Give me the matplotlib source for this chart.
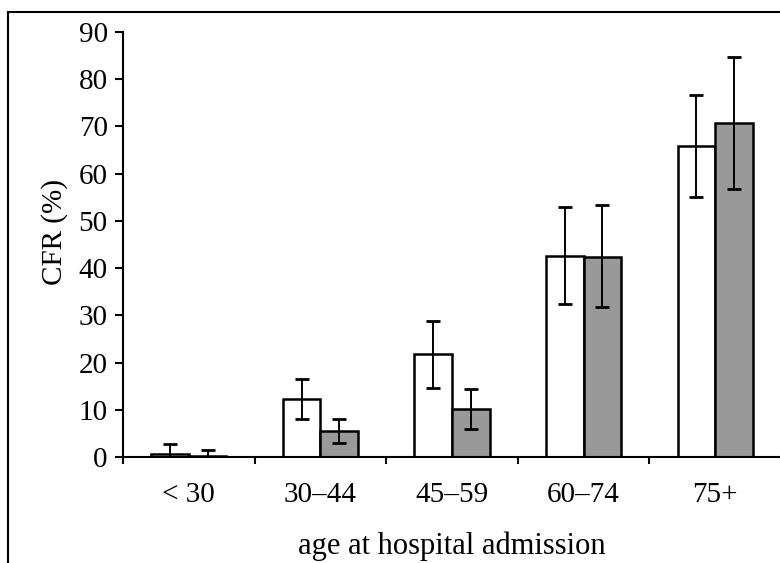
import numpy as np
import matplotlib.pyplot as plt
from matplotlib.lines import Line2D

# CFR by age group, two series (white / grey bars)
categories = ['< 30', '30\u201344', '45\u201359', '60\u201374', '75+']
cfr_white = [0.7, 12.3, 21.8, 42.5, 65.9]
low_white = [0.0, 8.0, 14.6, 32.3, 55.1]
high_white = [2.7, 16.5, 28.9, 53.0, 76.7]
cfr_grey = [0.3, 5.5, 10.2, 42.3, 70.7]
low_grey = [0.0, 3.0, 5.9, 31.7, 56.8]
high_grey = [1.5, 8.0, 14.3, 53.3, 84.7]

plt.rcParams['font.family'] = ['Liberation Serif', 'DejaVu Serif']

fig = plt.figure(figsize=(7.8, 5.63), dpi=100)
ax = fig.add_axes([0.1577, 0.1883, 0.8436, 0.7549])

x = np.arange(len(categories))
w = 0.286

def draw(vals, lo, hi, offset, color):
    vals = np.array(vals)
    ax.bar(x + offset, vals, w, color=color, edgecolor='black', linewidth=1.8, zorder=2)
    yerr = [vals - np.array(lo), np.array(hi) - vals]
    ax.errorbar(x + offset, vals, yerr=yerr, fmt='none', ecolor='black',
                elinewidth=1.4, capsize=5, capthick=2.0, zorder=3)

draw(cfr_white, low_white, high_white, -w / 2, 'white')
draw(cfr_grey, low_grey, high_grey, w / 2, '#999999')

ax.set_xlim(-0.5, len(categories) - 0.5)
ax.set_ylim(0, 90)
ax.set_yticks(range(0, 91, 10))
ax.set_xticks(np.arange(-0.5, len(categories), 1.0))
ax.set_xticklabels([])
ax.set_xticks(x, minor=True)
ax.set_xticklabels(categories, minor=True)
ax.tick_params(axis='x', which='minor', length=0, pad=18, labelsize=21)
ax.tick_params(axis='x', which='major', direction='out', length=5, width=1.5)
ax.tick_params(axis='y', direction='out', length=6, width=1.5, labelsize=21, pad=5)

for s in ['top', 'right']:
    ax.spines[s].set_visible(False)
ax.spines['left'].set_linewidth(1.5)
ax.spines['bottom'].set_linewidth(1.5)

ax.set_ylabel('CFR (%)', fontsize=21)
ax.yaxis.set_label_coords(-0.0836, 0.529)
ax.set_xlabel('age at hospital admission', fontsize=22, labelpad=17)

# cropped frame around the figure (left and top edges only)
fig.add_artist(Line2D([8 / 780, 8 / 780], [0, 1 - 12 / 563], color='black', lw=1.5,
                      transform=fig.transFigure))
fig.add_artist(Line2D([8 / 780, 1], [1 - 12 / 563, 1 - 12 / 563], color='black', lw=1.5,
                      transform=fig.transFigure))

fig.savefig('out.png', dpi=100)
